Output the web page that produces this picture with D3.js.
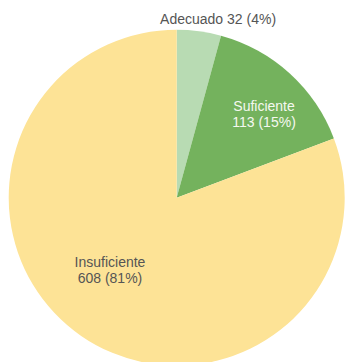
<!DOCTYPE html>
<html>
<head>
<meta charset="utf-8">
<script src="https://cdn.jsdelivr.net/npm/d3@7"></script>
<style>
  html, body { margin: 0; padding: 0; background: #fff; }
  svg { display: block; }
  text { font-family: "Liberation Sans", Arial, sans-serif; font-size: 14px; }
</style>
</head>
<body>
<svg id="chart" width="345" height="362"></svg>
<script>
// Distribution of levels
const categories = ["Adecuado", "Suficiente", "Insuficiente"];
const values = [32, 113, 608];
const colors = ["#b8dbb3", "#74b25d", "#fde396"];

const width = 345, height = 362;
const cx = 176.7, cy = 197.7, radius = 168;

const svg = d3.select("#chart");
const g = svg.append("g").attr("transform", `translate(${cx},${cy})`);

const total = d3.sum(values);
const data = categories.map((c, i) => ({ name: c, value: values[i], color: colors[i] }));

const pie = d3.pie().sort(null).value(d => d.value);
const arcs = pie(data);

const arc = d3.arc().innerRadius(0).outerRadius(radius);

g.selectAll("path.slice")
  .data(arcs)
  .join("path")
  .attr("class", "slice")
  .attr("d", arc)
  .attr("fill", d => d.data.color);

const pct = v => Math.round(v / total * 100) + "%";

// Label placement: radius fraction inside the slice, plus a nudge
const labelCfg = {
  "Adecuado":     { outside: true, dx: 19, dy: -174 },
  "Suficiente":   { k: 0.66, dx: 12.7, dy: -2, gap: 16.6, fill: "#f4f8f0" },
  "Insuficiente": { k: 0.62, dx: -7.5, dy: -13.1, gap: 16, fill: "#555555" }
};

arcs.forEach(a => {
  const cfg = labelCfg[a.data.name];
  if (cfg.outside) {
    const mid = (a.startAngle + a.endAngle) / 2;
    g.append("text")
      .attr("x", Math.sin(mid) * radius + cfg.dx)
      .attr("y", cfg.dy)
      .attr("text-anchor", "middle")
      .attr("fill", "#555555")
      .text(`${a.data.name} ${a.data.value} (${pct(a.data.value)})`);
  } else {
    const la = d3.arc().innerRadius(radius * cfg.k).outerRadius(radius * cfg.k);
    const [x, y] = la.centroid(a);
    const t = g.append("text")
      .attr("text-anchor", "middle")
      .attr("fill", cfg.fill);
    t.append("tspan").attr("x", x + cfg.dx).attr("y", y + cfg.dy - 3).text(a.data.name);
    t.append("tspan").attr("x", x + cfg.dx).attr("y", y + cfg.dy - 3 + cfg.gap)
      .text(`${a.data.value} (${pct(a.data.value)})`);
  }
});
</script>
</body>
</html>
